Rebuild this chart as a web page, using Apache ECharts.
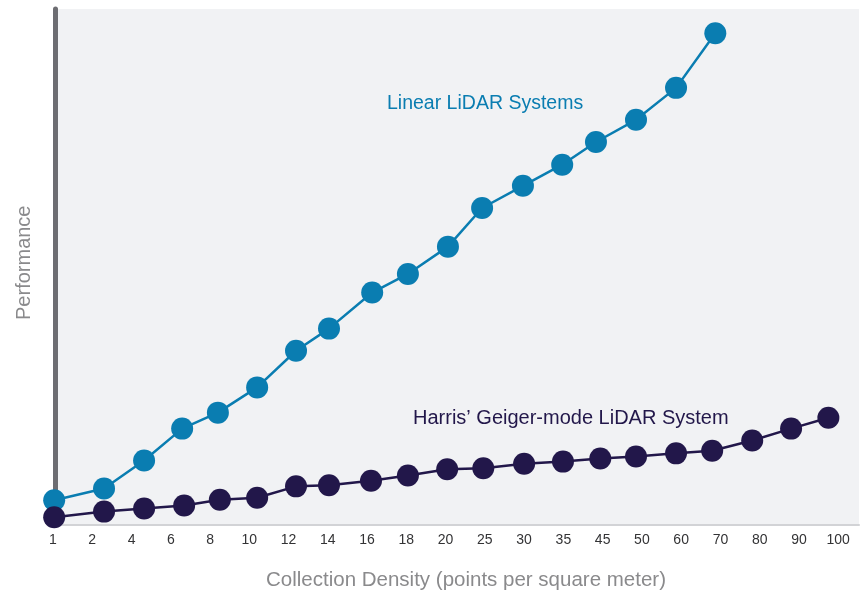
<!DOCTYPE html>
<html>
<head>
<meta charset="utf-8">
<script src="https://cdn.jsdelivr.net/npm/echarts@6/dist/echarts.min.js"></script>
<style>
html,body{margin:0;padding:0;background:#fff;}
#chart{width:866px;height:598px;}
</style>
</head>
<body>
<div id="chart"></div>
<script>
// Tick labels of the x axis (categories, evenly spaced)
var tickLabels = ['1','2','4','6','8','10','12','14','16','18','20','25','30','35','45','50','60','70','80','90','100'];

// Linear LiDAR Systems: x = position along the category axis (index units), y = performance (0-100)
var linearX = [0.03,1.30,2.32,3.29,4.20,5.20,6.19,7.03,8.13,9.04,10.06,10.93,11.97,12.97,13.83,14.85,15.87,16.87];
var linearY = [4.7,7.0,12.4,18.6,21.7,26.6,33.7,38.0,45.0,48.6,53.9,61.4,65.7,69.8,74.2,78.5,84.7,95.3];

// Harris' Geiger-mode LiDAR System
var geigerX = [0.03,1.30,2.32,3.34,4.25,5.20,6.19,7.03,8.10,9.04,10.04,10.96,12.00,12.99,13.94,14.85,15.87,16.79,17.81,18.80,19.75];
var geigerY = [1.4,2.5,3.1,3.7,4.8,5.2,7.4,7.6,8.5,9.5,10.7,10.9,11.8,12.2,12.8,13.2,13.8,14.3,16.3,18.6,20.7];

function pairs(xs, ys){ return xs.map(function(x,i){ return [x, ys[i]]; }); }

var FONT = '"Liberation Sans", Arial, sans-serif';
var BLUE = '#0a7db1';
var NAVY = '#22174a';

var chart = echarts.init(document.getElementById('chart'), null, {renderer:'canvas'});
chart.setOption({
  animation: false,
  backgroundColor: '#ffffff',
  grid: {
    left: 53, right: 7, top: 9, bottom: 73.5,
    show: true, backgroundColor: '#f1f2f4', borderWidth: 0
  },
  xAxis: {
    type: 'value',
    min: 0, max: 20.53, interval: 1,
    name: 'Collection Density (points per square meter)',
    nameLocation: 'middle',
    nameGap: 45,
    nameTextStyle: { fontFamily: FONT, fontSize: 20.5, color: '#8a8a8c', padding: [0, 0, 0, 20] },
    axisLine: { show: true, onZero: false, lineStyle: { color: '#d2d3d6', width: 2 } },
    axisTick: { show: false },
    splitLine: { show: false },
    axisLabel: {
      margin: 9,
      fontFamily: FONT, fontSize: 14, color: '#333335',
      showMaxLabel: false,
      formatter: function(v){ var i = Math.round(v); return (Math.abs(v - i) < 1e-6 && tickLabels[i]) ? tickLabels[i] : ''; }
    }
  },
  yAxis: {
    type: 'value',
    min: 0, max: 100,
    offset: -2,
    name: 'Performance',
    nameLocation: 'middle',
    nameGap: 21,
    nameTextStyle: { fontFamily: FONT, fontSize: 20, color: '#8a8a8c', padding: [0, 0, 0, 8] },
    axisLine: { show: true, onZero: false, lineStyle: { color: '#6d6d72', width: 5 } },
    axisTick: { show: false },
    axisLabel: { show: false },
    splitLine: { show: false }
  },
  series: [
    {
      name: 'Linear LiDAR Systems',
      type: 'line',
      data: pairs(linearX, linearY),
      symbol: 'circle', symbolSize: 22,
      lineStyle: { color: BLUE, width: 2.5 },
      itemStyle: { color: BLUE },
      z: 2
    },
    {
      name: "Harris’ Geiger-mode LiDAR System",
      type: 'line',
      data: pairs(geigerX, geigerY),
      symbol: 'circle', symbolSize: 22,
      lineStyle: { color: NAVY, width: 2.5 },
      itemStyle: { color: NAVY },
      z: 3
    }
  ],
  graphic: [
    { type: 'text', left: 387, top: 94,
      style: { text: 'Linear LiDAR Systems', fill: BLUE, font: '19.5px ' + FONT } },
    { type: 'text', left: 413, top: 408,
      style: { text: 'Harris’ Geiger-mode LiDAR System', fill: NAVY, font: '20px ' + FONT } }
  ]
});
</script>
</body>
</html>
